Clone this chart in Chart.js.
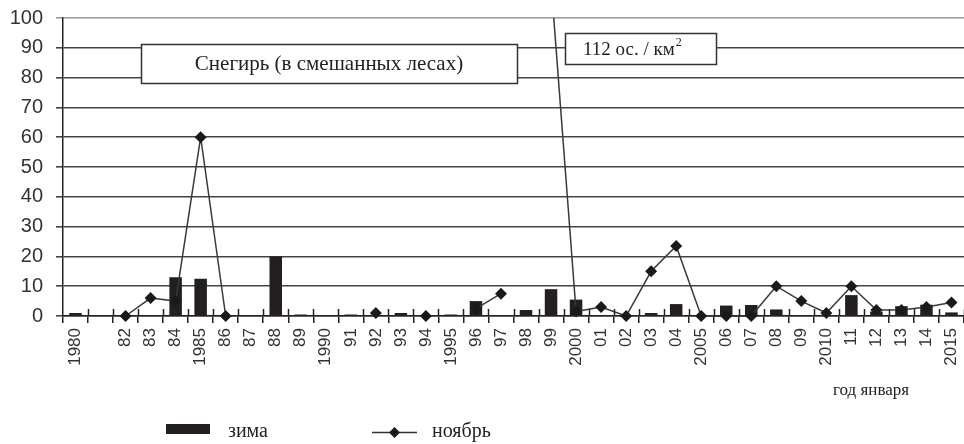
<!DOCTYPE html>
<html>
<head>
<meta charset="utf-8">
<title>Снегирь</title>
<script src="https://cdn.jsdelivr.net/npm/chart.js@4/dist/chart.umd.min.js"></script>
<style>
    body { margin: 0; background: #fff; }
    #wrap { width: 964px; height: 444px; overflow: hidden; }
</style>
</head>
<body>
<div id="wrap"><canvas id="birdChart" width="964" height="444"></canvas></div>

<script>
    // x categories: years of January (1981 has no label in the source)
    const years = ['1980', '', '82', '83', '84', '1985', '86', '87', '88', '89',
        '1990', '91', '92', '93', '94', '1995', '96', '97', '98', '99',
        '2000', '01', '02', '03', '04', '2005', '06', '07', '08', '09',
        '2010', '11', '12', '13', '14', '2015'];

    // winter counts (bars)
    const winter = [1, null, 0, 0, 13, 12.5, 0, 0, 20, 0.5,
        0, 0.5, 0, 1, 0, 0.5, 5, 0, 2, 9,
        5.5, 0, 0, 1, 4, 0, 3.5, 3.7, 2.2, 0,
        0, 7, 1.5, 3.3, 3.8, 1.2];

    // november counts (line), 1999 = 112 goes off the top
    const november = [null, null, 0, 6, 5, 60, 0, null, null, null,
        null, null, 1, null, 0, null, 2.5, 7.5, null, 112,
        1.5, 3, 0, 15, 23.5, 0, 0, 0, 10, 5,
        1, 10, 2, 2, 3, 4.5];

    const yTicks = [0, 100, 10]; // min, max, step

    const SERIF = '"Liberation Serif", "DejaVu Serif", serif';
    const SANS = '"Liberation Sans", Arial, sans-serif';

    // ticks of the x axis cross the axis line, draw the upper half here
    // plus the text boxes, caption and legend
    const extrasPlugin = {
        id: 'extras',
        afterDatasetsDraw(chart) {
            const ctx = chart.ctx;
            const x = chart.scales.x;
            const area = chart.chartArea;
            const step = x.getPixelForValue(1) - x.getPixelForValue(0);

            ctx.save();
            ctx.strokeStyle = '#222';
            ctx.lineWidth = 1.5;
            for (let i = 1; i <= years.length; i++) {
                const px = Math.round(x.getPixelForValue(i) - step / 2) + 0.5;
                ctx.beginPath();
                ctx.moveTo(px, area.bottom - 7);
                ctx.lineTo(px, area.bottom);
                ctx.stroke();
            }

            function box(l, t, w, h) {
                ctx.fillStyle = '#fff';
                ctx.fillRect(l, t, w, h);
                ctx.strokeStyle = '#333';
                ctx.lineWidth = 1.5;
                ctx.strokeRect(l, t, w, h);
            }

            // title box
            box(141.5, 44.5, 376, 39);
            ctx.fillStyle = '#222';
            ctx.font = '21px ' + SERIF;
            ctx.textAlign = 'center';
            ctx.textBaseline = 'middle';
            ctx.fillText('Снегирь (в смешанных лесах)', 329, 64);

            // off-scale value box
            box(565.5, 33.5, 151, 31);
            ctx.fillStyle = '#222';
            ctx.font = '19px ' + SERIF;
            ctx.textAlign = 'left';
            ctx.fillText('112 ос. / км', 583, 50);
            const w = ctx.measureText('112 ос. / км').width;
            ctx.font = '12px ' + SERIF;
            ctx.fillText('2', 583 + w + 1, 43);

            // axis caption
            ctx.font = '17px ' + SERIF;
            ctx.textAlign = 'left';
            ctx.fillText('год января', 833, 391);

            // legend
            ctx.fillStyle = '#231f20';
            ctx.fillRect(166, 424, 44, 10);
            ctx.font = '20px ' + SERIF;
            ctx.fillStyle = '#222';
            ctx.fillText('зима', 228, 432);

            ctx.strokeStyle = '#333';
            ctx.lineWidth = 1.5;
            ctx.beginPath();
            ctx.moveTo(372, 432.5);
            ctx.lineTo(417, 432.5);
            ctx.stroke();
            ctx.fillStyle = '#1a1a1a';
            ctx.beginPath();
            ctx.moveTo(394.5, 427);
            ctx.lineTo(400, 432.5);
            ctx.lineTo(394.5, 438);
            ctx.lineTo(389, 432.5);
            ctx.closePath();
            ctx.fill();
            ctx.fillStyle = '#222';
            ctx.fillText('ноябрь', 432, 432);
            ctx.restore();
        }
    };

    const ctx = document.getElementById('birdChart').getContext('2d');
    const chart = new Chart(ctx, {
        data: {
            labels: years,
            datasets: [
                {
                    type: 'line',
                    label: 'ноябрь',
                    data: november,
                    order: 0,
                    clip: { left: 8, top: 0, right: 8, bottom: false },
                    borderColor: '#3a3a3a',
                    borderWidth: 1.5,
                    tension: 0,
                    spanGaps: false,
                    pointStyle: 'rectRot',
                    pointRadius: 6,
                    pointBackgroundColor: '#1a1a1a',
                    pointBorderColor: '#1a1a1a',
                    pointBorderWidth: 0
                },
                {
                    type: 'bar',
                    label: 'зима',
                    data: winter,
                    order: 1,
                    backgroundColor: '#231f20',
                    barPercentage: 0.5,
                    categoryPercentage: 1
                }
            ]
        },
        options: {
            responsive: false,
            animation: false,
            layout: {
                autoPadding: false,
                padding: { top: 18, right: -4, left: 0, bottom: 0 }
            },
            plugins: {
                legend: { display: false },
                tooltip: { enabled: false },
                title: { display: false }
            },
            scales: {
                x: {
                    offset: true,
                    afterFit(scale) { scale.height = 128; scale.paddingLeft = 0; scale.paddingRight = 0; },
                    border: { color: '#222', width: 1.5 },
                    grid: {
                        offset: true,
                        drawOnChartArea: false,
                        tickLength: 7,
                        color: '#222',
                        lineWidth: 1.5
                    },
                    ticks: {
                        autoSkip: false,
                        minRotation: 90,
                        maxRotation: 90,
                        padding: 5,
                        color: '#333',
                        font: { family: SANS, size: 17 }
                    }
                },
                y: {
                    min: yTicks[0],
                    max: yTicks[1],
                    afterFit(scale) { scale.width = 63; scale.paddingTop = 0; scale.paddingBottom = 0; },
                    border: { color: '#222', width: 1.5 },
                    grid: {
                        color: (c) => c.tick && c.tick.value === 100 ? '#9a9a9a' : '#444',
                        lineWidth: 1.6,
                        tickLength: 7
                    },
                    ticks: {
                        stepSize: yTicks[2],
                        padding: 13,
                        color: '#333',
                        font: { family: SANS, size: 20 }
                    }
                }
            }
        },
        plugins: [extrasPlugin]
    });
</script>
</body>
</html>
